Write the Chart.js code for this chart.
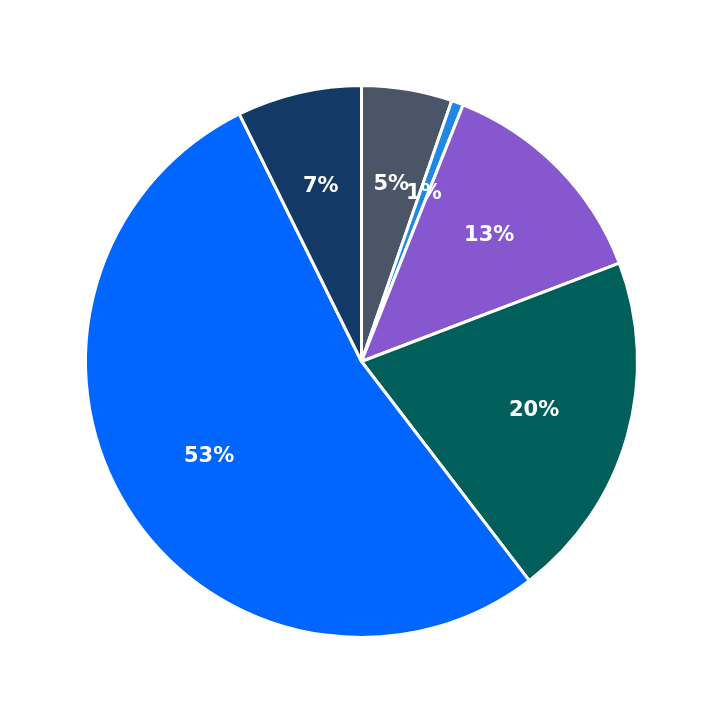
<!DOCTYPE html>
<html><head><script src="https://cdn.jsdelivr.net/npm/chart.js@4"></script>
<style>html,body{margin:0;background:#fff}#w{width:723px;height:723px}</style></head>
<body><div id="w"><canvas id="c"></canvas></div>
<script>
const categories = ["A","B","C","D","E","F"];
const values = [5.3, 0.7, 13.2, 20.4, 53.1, 7.3];
const colors = ["#4a5568","#1e88e5","#8757cf","#005f5b","#0066ff","#133a66"];
const labelPlugin = {
  id:'lbl',
  afterDatasetsDraw(chart){
    const ctx=chart.ctx, meta=chart.getDatasetMeta(0);
    const total=values.reduce((a,b)=>a+b,0);
    ctx.save();
    ctx.font='bold 21px "DejaVu Sans"';ctx.fillStyle='#fff';
    ctx.textAlign='center';ctx.textBaseline='middle';
    meta.data.forEach((a,i)=>{
      const p=a.getProps(['x','y','startAngle','endAngle','outerRadius'],true);
      const m=(p.startAngle+p.endAngle)/2, r=p.outerRadius*0.65;
      ctx.fillText(Math.round(values[i]/total*100)+'%', p.x+Math.cos(m)*r, p.y+Math.sin(m)*r);
    });
    ctx.restore();
  }
};
new Chart(document.getElementById('c'),{
  type:'pie',
  data:{labels:categories,datasets:[{data:values,backgroundColor:colors,borderColor:'#fff',borderWidth:3}]},
  options:{responsive:true,maintainAspectRatio:false,animation:false,
    layout:{padding:84},
    plugins:{legend:{display:false},tooltip:{enabled:false}}},
  plugins:[labelPlugin]
});
</script></body></html>
